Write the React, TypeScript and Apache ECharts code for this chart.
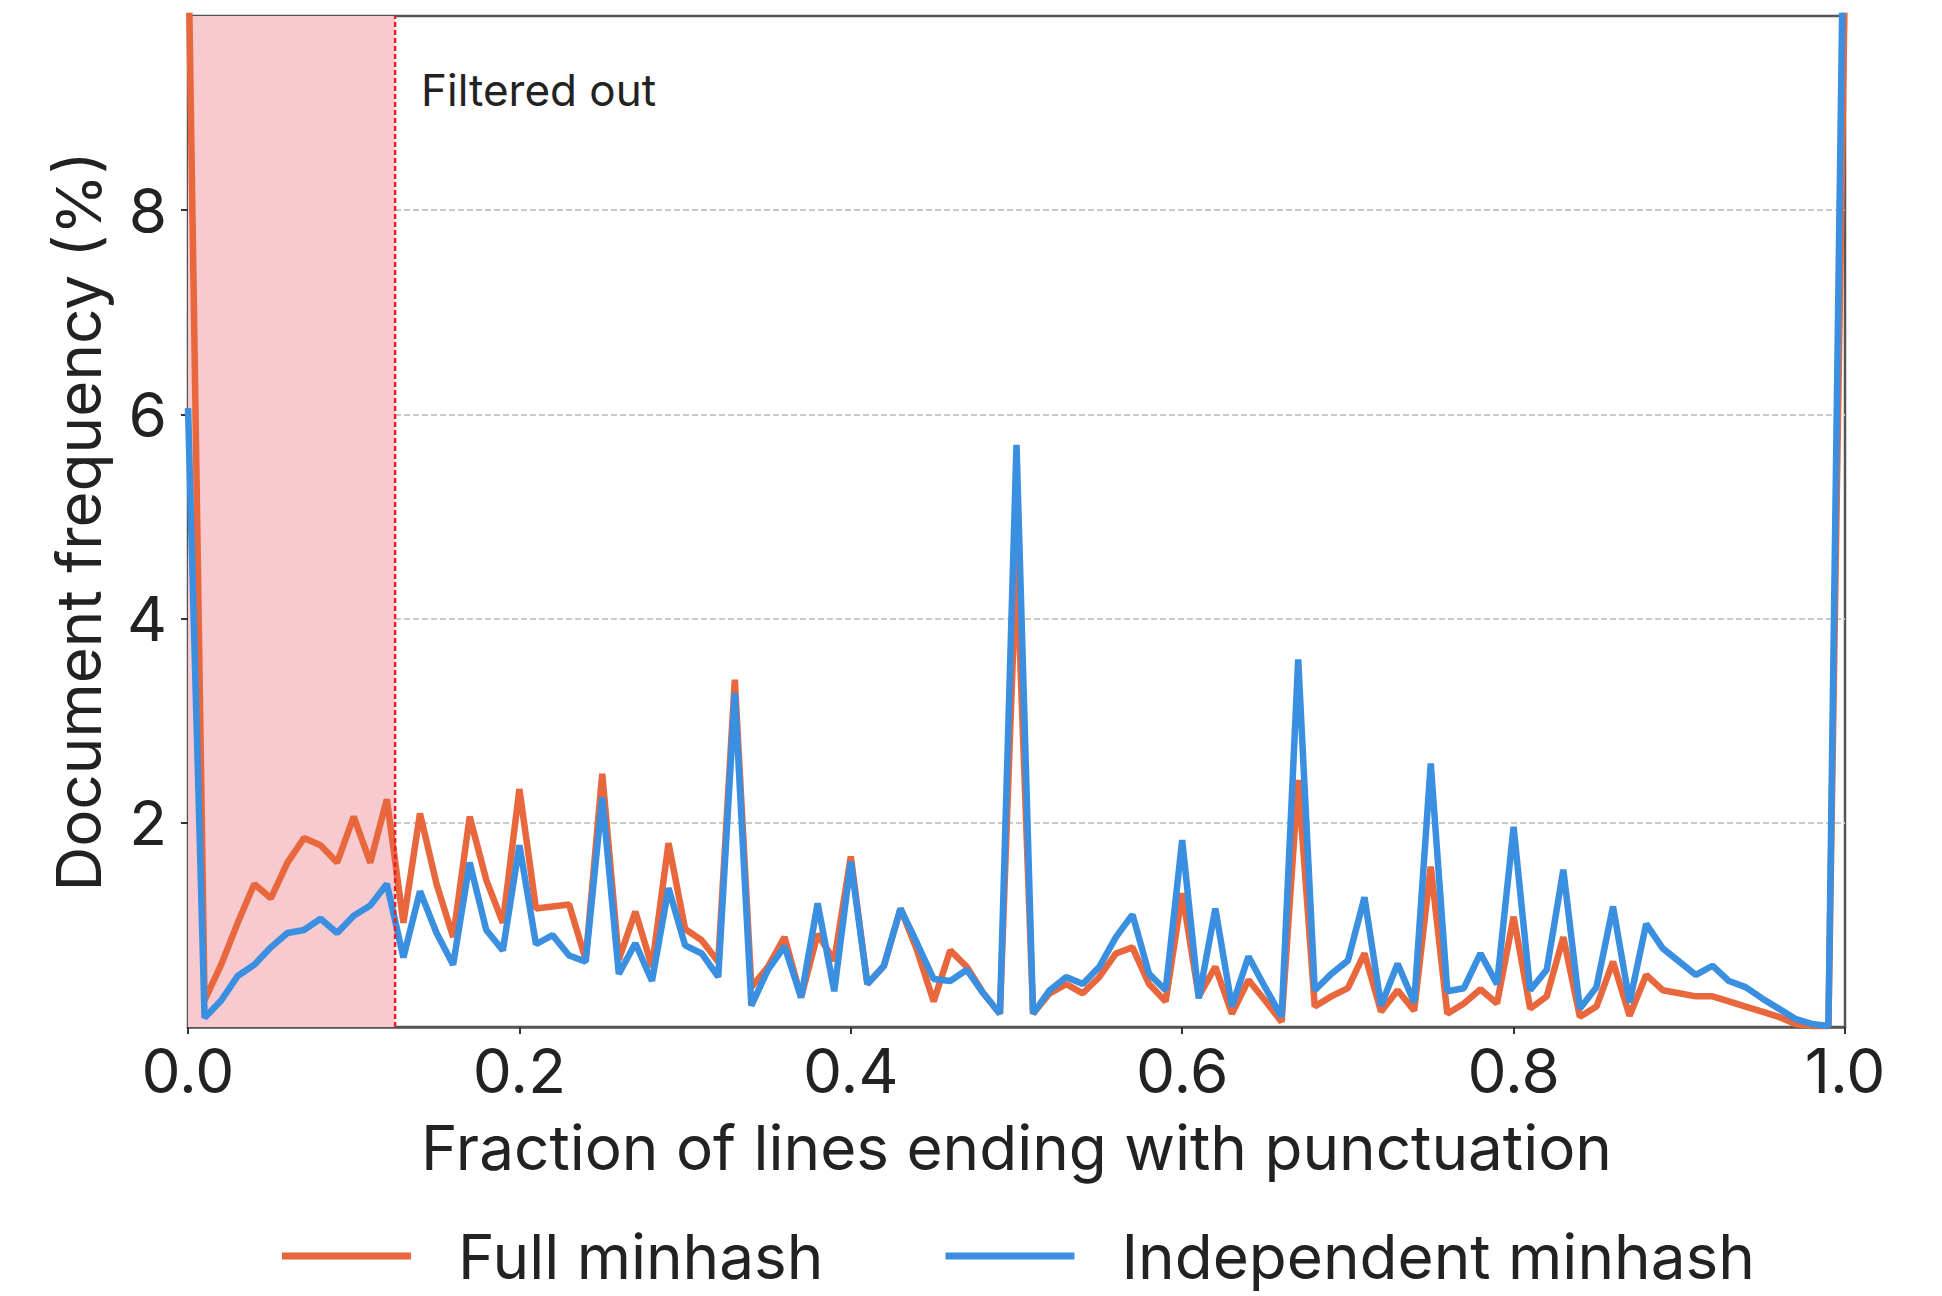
import React, { useEffect, useRef } from "react";
import * as echarts from "echarts";

const xValues = [
  0.0, 0.01, 0.02, 0.03, 0.04, 0.05, 0.06, 0.07, 0.08, 0.09,
  0.1, 0.11, 0.12, 0.13, 0.14, 0.15, 0.16, 0.17, 0.18, 0.19,
  0.2, 0.21, 0.22, 0.23, 0.24, 0.25, 0.26, 0.27, 0.28, 0.29,
  0.3, 0.31, 0.32, 0.33, 0.34, 0.35, 0.36, 0.37, 0.38, 0.39,
  0.4, 0.41, 0.42, 0.43, 0.44, 0.45, 0.46, 0.47, 0.48, 0.49,
  0.5, 0.51, 0.52, 0.53, 0.54, 0.55, 0.56, 0.57, 0.58, 0.59,
  0.6, 0.61, 0.62, 0.63, 0.64, 0.65, 0.66, 0.67, 0.68, 0.69,
  0.7, 0.71, 0.72, 0.73, 0.74, 0.75, 0.76, 0.77, 0.78, 0.79,
  0.8, 0.81, 0.82, 0.83, 0.84, 0.85, 0.86, 0.87, 0.88, 0.89,
  0.9, 0.91, 0.92, 0.93, 0.94, 0.95, 0.96, 0.97, 0.98, 0.99,
  1.0,
];

const fullMinhash = [
  10.8, 0.26, 0.61, 1.02, 1.4, 1.26, 1.61, 1.85, 1.78, 1.61,
  2.06, 1.61, 2.23, 1.02, 2.09, 1.4, 0.88, 2.06, 1.44, 1.02,
  2.33, 1.16, 1.18, 1.2, 0.66, 2.48, 0.66, 1.13, 0.59, 1.8,
  0.96, 0.85, 0.64, 3.4, 0.39, 0.59, 0.88, 0.29, 0.91, 0.65,
  1.67, 0.42, 0.6, 1.16, 0.75, 0.25, 0.75, 0.59, 0.33, 0.13,
  4.6, 0.13, 0.33, 0.42, 0.33, 0.49, 0.72, 0.78, 0.42, 0.25,
  1.31, 0.3, 0.59, 0.13, 0.46, 0.26, 0.05, 2.42, 0.2, 0.3,
  0.38, 0.72, 0.15, 0.36, 0.16, 1.57, 0.13, 0.23, 0.37, 0.23,
  1.08, 0.18, 0.3, 0.88, 0.1, 0.2, 0.64, 0.11, 0.51, 0.36,
  0.33, 0.3, 0.3, 0.25, 0.2, 0.15, 0.1, 0.03, 0.01, 0.01,
  10.3,
];

const independentMinhash = [
  6.06, 0.09, 0.26, 0.5, 0.61, 0.78, 0.92, 0.95, 1.06, 0.92,
  1.09, 1.19, 1.4, 0.68, 1.33, 0.92, 0.61, 1.61, 0.95, 0.75,
  1.78, 0.81, 0.9, 0.7, 0.64, 2.25, 0.52, 0.82, 0.45, 1.36,
  0.8, 0.72, 0.49, 3.27, 0.21, 0.56, 0.79, 0.29, 1.21, 0.35,
  1.62, 0.42, 0.6, 1.16, 0.82, 0.47, 0.45, 0.56, 0.33, 0.13,
  5.7, 0.13, 0.36, 0.49, 0.42, 0.59, 0.88, 1.1, 0.52, 0.36,
  1.83, 0.28, 1.16, 0.2, 0.69, 0.39, 0.1, 3.6, 0.36, 0.52,
  0.65, 1.27, 0.21, 0.62, 0.24, 2.58, 0.35, 0.38, 0.72, 0.42,
  1.96, 0.36, 0.56, 1.54, 0.18, 0.39, 1.18, 0.24, 1.01, 0.77,
  0.64, 0.51, 0.6, 0.45, 0.39, 0.28, 0.18, 0.08, 0.03, 0.01,
  12.0,
];

const seriesNames = ["Full minhash", "Independent minhash"];
const xTickValues = [0, 0.2, 0.4, 0.6, 0.8, 1.0];
const yTickValues = [2, 4, 6, 8];
const yRange = [0, 9.9];
const filterThreshold = 0.125;
const annotationText = "Filtered out";

const FONT = "Inter, 'Noto Sans', sans-serif";
const ORANGE = "#E8673D";
const BLUE = "#3A8FE0";
const FS = 62;

export default function App() {
  const ref = useRef<HTMLDivElement>(null);

  useEffect(() => {
    if (!ref.current) return;
    const chart = echarts.init(ref.current, null, { renderer: "svg" });
    const pairs = (ys: number[]) => xValues.map((x, i) => [x, ys[i]]);

    chart.setOption({
      animation: false,
      backgroundColor: "#ffffff",
      textStyle: { fontFamily: FONT },
      grid: {
        left: 188,
        right: 97,
        top: 16,
        bottom: 269,
        show: true,
        borderColor: "#555555",
        borderWidth: 2.5,
        backgroundColor: "transparent",
      },
      legend: {
        left: 277,
        top: 1220,
        icon: "rect",
        itemWidth: 129,
        itemHeight: 7,
        itemGap: 122,
        data: seriesNames,
        textStyle: {
          fontFamily: FONT,
          fontSize: FS,
          color: "#222222",
          lineHeight: 62,
          padding: [0, 0, 0, 42],
        },
      },
      xAxis: {
        type: "value",
        min: 0,
        max: 1,
        interval: 0.2,
        name: "Fraction of lines ending with punctuation",
        nameLocation: "middle",
        nameGap: 89,
        nameTextStyle: { fontFamily: FONT, fontSize: FS, color: "#222222" },
        axisLine: { show: true, lineStyle: { color: "#555555", width: 2.5 } },
        axisTick: {
          show: true,
          length: 7,
          lineStyle: { color: "#333333", width: 2 },
          customValues: xTickValues,
        },
        axisLabel: {
          fontFamily: FONT,
          fontSize: FS,
          color: "#222222",
          margin: 12,
          customValues: xTickValues,
          formatter: (v: number) => v.toFixed(1),
        },
        splitLine: { show: false },
      },
      yAxis: {
        type: "value",
        min: yRange[0],
        max: yRange[1],
        interval: 2,
        name: "Document frequency (%)",
        nameLocation: "middle",
        nameGap: 79,
        nameTextStyle: { fontFamily: FONT, fontSize: FS, color: "#222222" },
        axisLine: { show: true, lineStyle: { color: "#555555", width: 2.5 } },
        axisTick: {
          show: true,
          length: 7,
          lineStyle: { color: "#333333", width: 2 },
          customValues: yTickValues,
        },
        axisLabel: {
          fontFamily: FONT,
          fontSize: FS,
          color: "#222222",
          margin: 21,
          customValues: yTickValues,
        },
        splitLine: {
          show: true,
          lineStyle: { color: "#c9c9c9", width: 2, type: [6, 3] },
        },
      },
      graphic: [
        {
          type: "text",
          left: 421,
          top: 68,
          style: {
            text: annotationText,
            fontFamily: FONT,
            fontSize: 44,
            fill: "#222222",
          },
        },
      ],
      series: [
        {
          name: seriesNames[0],
          type: "line",
          data: pairs(fullMinhash),
          showSymbol: false,
          symbol: "none",
          color: ORANGE,
          lineStyle: { color: ORANGE, width: 6.5 },
          z: 3,
          markArea: {
            silent: true,
            itemStyle: { color: "#F6CACE", opacity: 1 },
            data: [[{ xAxis: 0 }, { xAxis: filterThreshold }]],
          },
        },
        {
          name: seriesNames[1],
          type: "line",
          data: pairs(independentMinhash),
          showSymbol: false,
          symbol: "none",
          color: BLUE,
          lineStyle: { color: BLUE, width: 6.5 },
          z: 4,
        },
        {
          name: "threshold",
          type: "line",
          data: [
            [filterThreshold, yRange[0]],
            [filterThreshold, yRange[1]],
          ],
          showSymbol: false,
          symbol: "none",
          silent: true,
          lineStyle: { color: "#E8202A", width: 2.5, type: [5, 3] },
          z: 6,
        },
      ],
    });

    return () => chart.dispose();
  }, []);

  return (
    <div
      ref={ref}
      style={{ position: "fixed", left: 0, top: 0, width: 1942, height: 1296 }}
    />
  );
}
